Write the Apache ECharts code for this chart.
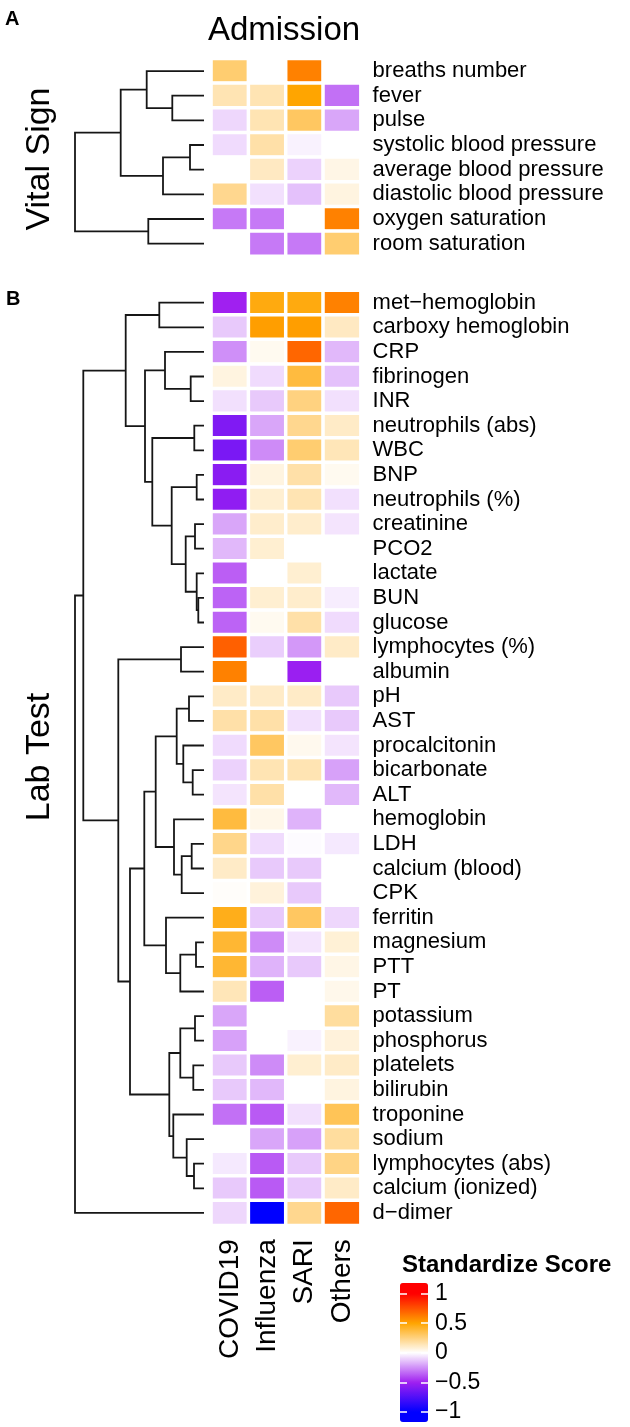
<!DOCTYPE html>
<html><head><meta charset="utf-8">
<script src="https://cdn.jsdelivr.net/npm/echarts@6/dist/echarts.min.js"></script>
<style>html,body{margin:0;padding:0;background:#fff}#c{width:630px;height:1427px}</style>
</head><body><div id="c"></div>
<script>
// ---------- data ----------
const columns = ['COVID19', 'Influenza', 'SARI', 'Others'];

const vitalRows = ['breaths number', 'fever', 'pulse', 'systolic blood pressure',
  'average blood pressure', 'diastolic blood pressure', 'oxygen saturation', 'room saturation'];
const vitalValues = [
  [0.28, 0, 0.61, 0],
  [0.15, 0.15, 0.5, -0.32],
  [-0.09, 0.15, 0.31, -0.2],
  [-0.08, 0.17, -0.03, 0],
  [0, 0.12, -0.1, 0.05],
  [0.22, -0.07, -0.14, 0.06],
  [-0.3, -0.3, 0, 0.61],
  [0, -0.3, -0.3, 0.28]
];
// merges: numbers are leaf rows, 'nK' is the K-th merge
const vitalMerges = [[1, 2], [0, 'n0'], [3, 4], ['n2', 5], ['n1', 'n3'], [6, 7], ['n4', 'n5']];
const vitalHeights = [31.7, 57.3, 14, 41, 83.3, 55.7, 129];

const labRows = ['met\u2212hemoglobin', 'carboxy hemoglobin', 'CRP', 'fibrinogen', 'INR',
  'neutrophils (abs)', 'WBC', 'BNP', 'neutrophils (%)', 'creatinine', 'PCO2', 'lactate', 'BUN',
  'glucose', 'lymphocytes (%)', 'albumin', 'pH', 'AST', 'procalcitonin', 'bicarbonate', 'ALT',
  'hemoglobin', 'LDH', 'calcium (blood)', 'CPK', 'ferritin', 'magnesium', 'PTT', 'PT',
  'potassium', 'phosphorus', 'platelets', 'bilirubin', 'troponine', 'sodium',
  'lymphocytes (abs)', 'calcium (ionized)', 'd\u2212dimer'];
const labValues = [
  [-0.5, 0.47, 0.47, 0.61],
  [-0.12, 0.52, 0.52, 0.12],
  [-0.25, 0.03, 0.69, -0.16],
  [0.06, -0.08, 0.375, -0.14],
  [-0.07, -0.12, 0.25, -0.07],
  [-0.6, -0.2, 0.22, 0.11],
  [-0.62, -0.26, 0.28, 0.14],
  [-0.57, 0.06, 0.17, 0.03],
  [-0.55, 0.09, 0.15, -0.07],
  [-0.2, 0.1, 0.1, -0.06],
  [-0.16, 0.09, 0, 0],
  [-0.36, 0, 0.09, 0],
  [-0.35, 0.09, 0.1, -0.04],
  [-0.35, 0.03, 0.17, -0.08],
  [0.71, -0.11, -0.23, 0.11],
  [0.61, 0, -0.52, 0],
  [0.11, 0.11, 0.11, -0.12],
  [0.17, 0.17, -0.07, -0.12],
  [-0.08, 0.31, 0.035, -0.06],
  [-0.1, 0.15, 0.15, -0.21],
  [-0.06, 0.17, 0, -0.16],
  [0.375, 0.045, -0.17, 0],
  [0.23, -0.08, -0.01, -0.05],
  [0.11, -0.12, -0.12, 0],
  [0.01, 0.07, -0.12, 0],
  [0.45, -0.12, 0.31, -0.09],
  [0.4, -0.26, -0.06, 0.08],
  [0.4, -0.17, -0.12, 0.05],
  [0.14, -0.36, 0, 0.04],
  [-0.2, 0, 0, 0.19],
  [-0.21, 0, -0.03, 0.07],
  [-0.12, -0.26, 0.09, 0.11],
  [-0.12, -0.16, 0, 0.06],
  [-0.32, -0.37, -0.07, 0.33],
  [0, -0.2, -0.21, 0.19],
  [-0.05, -0.37, -0.12, 0.24],
  [-0.12, -0.37, -0.12, 0.11],
  [-0.09, -1.1, 0.22, 0.69]
];
const labMerges = [
  [0, 1], [3, 4], [2, 'n1'], [5, 6], [7, 8], [9, 10], [12, 13], [11, 'n6'], ['n5', 'n7'],
  ['n4', 'n8'], ['n3', 'n9'], ['n2', 'n10'], ['n0', 'n11'], [14, 15], [16, 17], [19, 20],
  [18, 'n15'], ['n14', 'n16'], [22, 23], ['n18', 24], [21, 'n19'], ['n17', 'n20'], [26, 27],
  ['n22', 28], [25, 'n23'], ['n21', 'n24'], [29, 30], [31, 32], ['n26', 'n27'], [35, 36],
  [34, 'n29'], [33, 'n30'], ['n28', 'n31'], ['n25', 'n32'], ['n13', 'n33'], ['n12', 'n34'],
  ['n35', 37]
];
const labHeights = [44.7, 13.3, 39, 9.7, 7.3, 9, 5.7, 7.3, 18.3, 32.3, 51.7, 59, 78.3, 23, 15,
  11.3, 20.7, 27.3, 12.3, 22.3, 30, 48.3, 8, 23.7, 38, 59.7, 9, 10.7, 23.7, 10, 17.3, 30.7,
  34.7, 74, 85.7, 120.7, 129];

const legendTicks = [-1, -0.5, 0, 0.5, 1];
const scaleMin = -1.17, scaleMax = 1.18;
const rampStops = [-1, -0.5, 0, 0.5, 1];
const rampColors = ['#0000FF', '#A020F0', '#FFFFFF', '#FFA500', '#FF0000'];

// ---------- helpers ----------
function hexRgb(h) { return [1, 3, 5].map(i => parseInt(h.slice(i, i + 2), 16)); }
function ramp(v) {
  v = Math.max(rampStops[0], Math.min(rampStops[rampStops.length - 1], v));
  let k = 0;
  while (k < rampStops.length - 2 && v > rampStops[k + 1]) k++;
  const t = (v - rampStops[k]) / (rampStops[k + 1] - rampStops[k]);
  const a = hexRgb(rampColors[k]), b = hexRgb(rampColors[k + 1]);
  const c = a.map((x, i) => Math.round(x + (b[i] - x) * t));
  return 'rgb(' + c.join(',') + ')';
}
const nStops = 235; // 0.01 steps so 0 falls exactly on a stop
const mapColors = [];
for (let i = 0; i <= nStops; i++) mapColors.push(ramp(scaleMin + (scaleMax - scaleMin) * i / nStops));

function cells(values) {
  const out = [];
  values.forEach((row, r) => row.forEach((v, c) => out.push([c, r, v])));
  return out;
}
function dendro(merges, heights) {
  const pos = [], hgt = [], out = [];
  const get = ref => typeof ref === 'number' ? { y: ref, h: 0 }
    : { y: pos[+ref.slice(1)], h: hgt[+ref.slice(1)] };
  merges.forEach((m, k) => {
    const a = get(m[0]), b = get(m[1]), h = heights[k];
    pos[k] = (a.y + b.y) / 2; hgt[k] = h;
    out.push({ coords: [[a.h, a.y], [h, a.y], [h, b.y], [b.h, b.y]] });
  });
  return out;
}

// ---------- layout ----------
const FONT = '"Liberation Sans", Arial, sans-serif';
const heatLeft = 211.3, heatWidth = 149.3;
const vTop = 58.7, vH = 197.3;
const lTop = 290.4, lH = 934.8;
const dLeft = 75, dWidth = 129;
const maxH = 129;

const chart = echarts.init(document.getElementById('c'), null, { renderer: 'canvas' });
const rowLabel = { interval: 0, margin: 12, fontSize: 22, color: '#000', fontFamily: FONT };
const lineStyle = { color: '#161616', width: 1.8, opacity: 1 };

chart.setOption({
  animation: false,
  backgroundColor: '#fff',
  textStyle: { fontFamily: FONT },
  grid: [
    { left: heatLeft, top: vTop, width: heatWidth, height: vH, show: false },
    { left: heatLeft, top: lTop, width: heatWidth, height: lH, show: false },
    { left: dLeft, top: vTop, width: dWidth, height: vH, show: false },
    { left: dLeft, top: lTop, width: dWidth, height: lH, show: false },
    { left: 400, top: 1283, width: 28, height: 139, show: false }
  ],
  xAxis: [
    { type: 'category', data: columns, gridIndex: 0, show: false },
    { type: 'category', data: columns, gridIndex: 1, axisLine: { show: false }, axisTick: { show: false },
      axisLabel: { interval: 0, rotate: 90, margin: 14, fontSize: 28, color: '#000', fontFamily: FONT } },
    { type: 'value', gridIndex: 2, min: 0, max: maxH, inverse: true, show: false },
    { type: 'value', gridIndex: 3, min: 0, max: maxH, inverse: true, show: false },
    { type: 'value', gridIndex: 4, min: 0, max: 1, show: false }
  ],
  yAxis: [
    { type: 'category', data: vitalRows, gridIndex: 0, inverse: true, position: 'right',
      axisLine: { show: false }, axisTick: { show: false }, axisLabel: rowLabel },
    { type: 'category', data: labRows, gridIndex: 1, inverse: true, position: 'right',
      axisLine: { show: false }, axisTick: { show: false }, axisLabel: rowLabel },
    { type: 'value', gridIndex: 2, min: -0.5, max: vitalRows.length - 0.5, inverse: true, show: false },
    { type: 'value', gridIndex: 3, min: -0.5, max: labRows.length - 0.5, inverse: true, show: false },
    { type: 'value', gridIndex: 4, min: scaleMin, max: scaleMax, position: 'left', z: 10,
      axisLine: { show: false }, splitLine: { show: false }, axisLabel: { show: false },
      axisTick: { show: true, inside: true, length: 7, customValues: legendTicks,
        lineStyle: { color: '#fff', width: 1.5 } } },
    { type: 'value', gridIndex: 4, min: scaleMin, max: scaleMax, position: 'right', z: 10,
      axisLine: { show: false }, splitLine: { show: false },
      axisTick: { show: true, inside: true, length: 7, customValues: legendTicks,
        lineStyle: { color: '#fff', width: 1.5 } },
      axisLabel: { show: true, customValues: legendTicks, margin: 7, fontSize: 23, color: '#000',
        fontFamily: FONT, formatter: v => String(v).replace('-', '\u2212') } }
  ],
  visualMap: {
    type: 'continuous', min: scaleMin, max: scaleMax, seriesIndex: [0, 1],
    inRange: { color: mapColors }, calculable: false, hoverLink: false, realtime: false,
    left: 400, top: 1283, itemWidth: 28, itemHeight: 139, padding: 0, text: null,
    showLabel: false
  },
  graphic: [
    { type: 'text', x: 5, y: 19, style: { text: 'A', font: 'bold 20px ' + FONT, fill: '#000', verticalAlign: 'middle' } },
    { type: 'text', x: 6, y: 299.5, style: { text: 'B', font: 'bold 20px ' + FONT, fill: '#000', verticalAlign: 'middle' } },
    { type: 'text', x: 284, y: 30.5, style: { text: 'Admission', font: '33px ' + FONT, fill: '#000', align: 'center', verticalAlign: 'middle' } },
    { type: 'text', x: 40, y: 159, rotation: Math.PI / 2, style: { text: 'Vital Sign', font: '34px ' + FONT, fill: '#000', align: 'center', verticalAlign: 'middle' } },
    { type: 'text', x: 40, y: 757, rotation: Math.PI / 2, style: { text: 'Lab Test', font: '34px ' + FONT, fill: '#000', align: 'center', verticalAlign: 'middle' } },
    { type: 'text', x: 402, y: 1265, style: { text: 'Standardize Score', font: 'bold 24px ' + FONT, fill: '#000', verticalAlign: 'middle' } }
  ],
  series: [
    { type: 'heatmap', xAxisIndex: 0, yAxisIndex: 0, data: cells(vitalValues), silent: true,
      itemStyle: { borderColor: '#fff', borderWidth: 3.5 } },
    { type: 'heatmap', xAxisIndex: 1, yAxisIndex: 1, data: cells(labValues), silent: true,
      itemStyle: { borderColor: '#fff', borderWidth: 3.5 } },
    { type: 'lines', coordinateSystem: 'cartesian2d', xAxisIndex: 2, yAxisIndex: 2, polyline: true,
      silent: true, data: dendro(vitalMerges, vitalHeights), lineStyle: lineStyle },
    { type: 'lines', coordinateSystem: 'cartesian2d', xAxisIndex: 3, yAxisIndex: 3, polyline: true,
      silent: true, data: dendro(labMerges, labHeights), lineStyle: lineStyle }
  ]
});
</script></body></html>
